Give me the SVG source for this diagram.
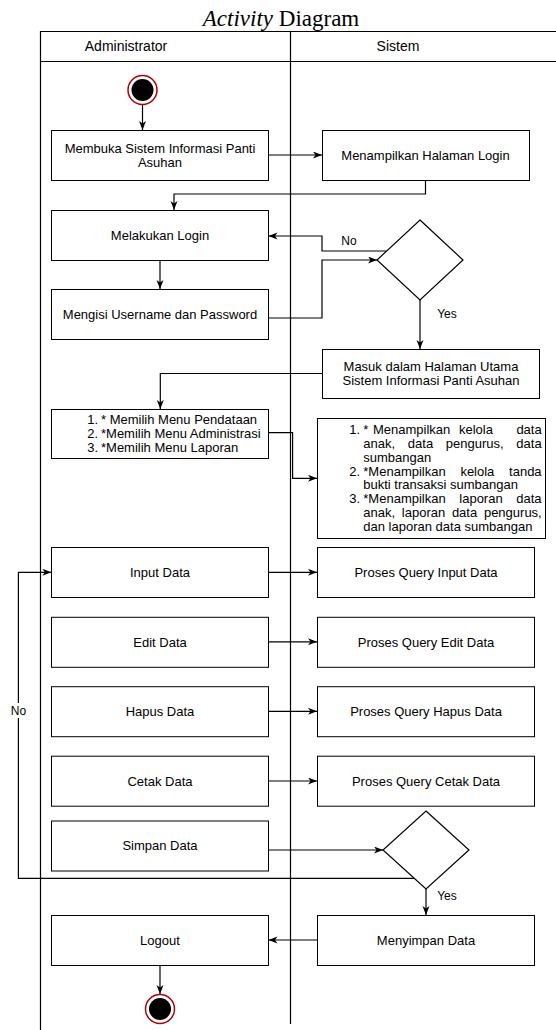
<svg xmlns="http://www.w3.org/2000/svg" width="556" height="1030" viewBox="0 0 556 1030">
<style>
.box{fill:#fff;stroke:#000;stroke-width:1}
.t{font-family:"Liberation Sans",Arial,sans-serif;font-size:13px;fill:#000}
.c{text-anchor:middle}
.e{text-anchor:end}
.lbl{font-family:"Liberation Sans",Arial,sans-serif;font-size:12px;fill:#000;text-anchor:middle}
.ln{fill:none;stroke:#000;stroke-width:1.2}
.arr{marker-end:url(#ah)}
.dia{fill:#fff;stroke:#000;stroke-width:1.2}
.hd{font-family:"Liberation Sans",Arial,sans-serif;font-size:14px;fill:#000;text-anchor:middle}
</style>
<defs>
<marker id="ah" markerUnits="userSpaceOnUse" markerWidth="10" markerHeight="8" refX="9" refY="3.5" orient="auto">
<path d="M0,0 L9,3.5 L0,7 L2.5,3.5 Z" fill="#000"/>
</marker>
</defs>
<rect width="556" height="1030" fill="#fff"/>
<text x="281" y="26" text-anchor="middle" font-family="'Liberation Serif','Times New Roman',serif" font-size="23" fill="#000"><tspan font-style="italic">Activity</tspan> Diagram</text>
<g id="pool">
<path d="M40.5,1030 V31.5 H556" class="ln"/>
<path d="M40.5,61.5 H556" class="ln"/>
<path d="M290.5,31.5 V1024" class="ln"/>
<text x="126" y="51" class="hd">Administrator</text>
<text x="398" y="51" class="hd">Sistem</text>
</g>
<g id="connectors">
<path d="M142.5,105 V130" class="ln arr"/>
<path d="M268.5,155 H322" class="ln arr"/>
<path d="M425.5,180 V194 H174 V210" class="ln arr"/>
<path d="M160,260 V289" class="ln arr"/>
<path d="M268.5,318 H322 V260 H377" class="ln arr"/>
<path d="M386,251 H322 V236 H268.5" class="ln arr"/>
<text x="349" y="245" class="lbl">No</text>
<path d="M420,300 V349" class="ln arr"/>
<text x="447" y="318" class="lbl">Yes</text>
<path d="M322,373.5 H160.3 V409" class="ln arr"/>
<path d="M268.5,432.7 H292.6 V478.3 H317" class="ln arr"/>
<path d="M268.5,572.3 H317" class="ln arr"/>
<path d="M268.5,641.8 H317" class="ln arr"/>
<path d="M268.5,711.3 H317" class="ln arr"/>
<path d="M268.5,781 H317" class="ln arr"/>
<path d="M268.5,850 H383" class="ln arr"/>
<path d="M414,878.3 H18.4 V572.3 H51.4" class="ln arr"/>
<rect x="9" y="703" width="19" height="15" fill="#fff"/>
<text x="18.5" y="715" class="lbl">No</text>
<path d="M426,889 V915" class="ln arr"/>
<text x="447" y="899.5" class="lbl">Yes</text>
<path d="M317,940 H268.5" class="ln arr"/>
<path d="M160,965 V994" class="ln arr"/>
</g>
<g id="start">
<circle cx="142.5" cy="90" r="14.5" fill="#fff" stroke="#b00000" stroke-width="1.5"/>
<circle cx="142.5" cy="90" r="11" fill="#000"/>
</g>
<g id="buka">
<rect x="51.5" y="130.5" width="217" height="50" class="box"/>
<text x="160" y="152.5" class="t c">Membuka Sistem Informasi Panti</text>
<text x="160" y="166.8" class="t c">Asuhan</text>
</g>
<g id="halamanLogin">
<rect x="322.5" y="130.5" width="207" height="50" class="box"/>
<text x="425.5" y="159.5" class="t c">Menampilkan Halaman Login</text>
</g>
<g id="login">
<rect x="51.5" y="210.5" width="217" height="50" class="box"/>
<text x="160" y="239.5" class="t c">Melakukan Login</text>
</g>
<g id="isi">
<rect x="51.5" y="289.5" width="217" height="50" class="box"/>
<text x="160" y="318.5" class="t c">Mengisi Username dan Password</text>
</g>
<g id="cek1">
<polygon points="420,220 463,260 420,300 377,260" class="dia"/>
</g>
<g id="utama">
<rect x="322.5" y="349.5" width="217" height="49" class="box"/>
<text x="431" y="370.5" class="t c">Masuk dalam Halaman Utama</text>
<text x="431" y="385" class="t c">Sistem Informasi Panti Asuhan</text>
</g>
<g id="menu">
<rect x="51.5" y="409.5" width="217" height="49" class="box"/>
<text x="98" y="423.5" class="t e">1.</text>
<text x="101" y="423.5" class="t">* Memilih Menu Pendataan</text>
<text x="98" y="437.7" class="t e">2.</text>
<text x="101" y="437.7" class="t">*Memilih Menu Administrasi</text>
<text x="98" y="451.9" class="t e">3.</text>
<text x="101" y="451.9" class="t">*Memilih Menu Laporan</text>
</g>
<g id="tampilMenu">
<rect x="317.5" y="418.5" width="228" height="120" class="box"/>
<text x="360" y="434.3" class="t e">1.</text>
<text y="434.3" class="t"><tspan x="363.3">*</tspan><tspan x="373">Menampilkan</tspan><tspan x="459">kelola</tspan><tspan x="516.4">data</tspan></text>
<text x="363.3" y="448" class="t" style="word-spacing:9.1px">anak, data pengurus, data</text>
<text x="363.3" y="461.8" class="t">sumbangan</text>
<text x="360" y="475.5" class="t e">2.</text>
<text x="363.3" y="475.5" class="t" style="word-spacing:11.1px">*Menampilkan kelola tanda</text>
<text x="363.3" y="489.3" class="t">bukti transaksi sumbangan</text>
<text x="360" y="503" class="t e">3.</text>
<text x="363.3" y="503" class="t" style="word-spacing:10px">*Menampilkan laporan data</text>
<text x="363.3" y="516.8" class="t" style="word-spacing:3.1px">anak, laporan data pengurus,</text>
<text x="363.3" y="530.6" class="t">dan laporan data sumbangan</text>
</g>
<g id="input">
<rect x="51.5" y="547.5" width="217" height="50" class="box"/>
<text x="160" y="577" class="t c">Input Data</text>
</g>
<g id="qInput">
<rect x="317.5" y="547.5" width="217" height="50" class="box"/>
<text x="426" y="577" class="t c">Proses Query Input Data</text>
</g>
<g id="edit">
<rect x="51.5" y="617.3" width="217" height="50" class="box"/>
<text x="160" y="646.5" class="t c">Edit Data</text>
</g>
<g id="qEdit">
<rect x="317.5" y="617.3" width="217" height="50" class="box"/>
<text x="426" y="646.5" class="t c">Proses Query Edit Data</text>
</g>
<g id="hapus">
<rect x="51.5" y="686.7" width="217" height="50" class="box"/>
<text x="160" y="716" class="t c">Hapus Data</text>
</g>
<g id="qHapus">
<rect x="317.5" y="686.7" width="217" height="50" class="box"/>
<text x="426" y="716" class="t c">Proses Query Hapus Data</text>
</g>
<g id="cetak">
<rect x="51.5" y="756.2" width="217" height="50" class="box"/>
<text x="160" y="785.5" class="t c">Cetak Data</text>
</g>
<g id="qCetak">
<rect x="317.5" y="756.2" width="217" height="50" class="box"/>
<text x="426" y="785.5" class="t c">Proses Query Cetak Data</text>
</g>
<g id="simpan">
<rect x="51.5" y="821" width="217" height="50" class="box"/>
<text x="160" y="849.5" class="t c">Simpan Data</text>
</g>
<g id="cek2">
<polygon points="426,811 469,850 426,889 383,850" class="dia"/>
</g>
<g id="menyimpan">
<rect x="317.5" y="915.5" width="217" height="50" class="box"/>
<text x="426" y="944.5" class="t c">Menyimpan Data</text>
</g>
<g id="logout">
<rect x="51.5" y="915.5" width="217" height="50" class="box"/>
<text x="160" y="944.5" class="t c">Logout</text>
</g>
<g id="end">
<circle cx="160" cy="1009" r="14.5" fill="#fff" stroke="#b00000" stroke-width="1.5"/>
<circle cx="160" cy="1009" r="11" fill="#000"/>
</g>
</svg>
